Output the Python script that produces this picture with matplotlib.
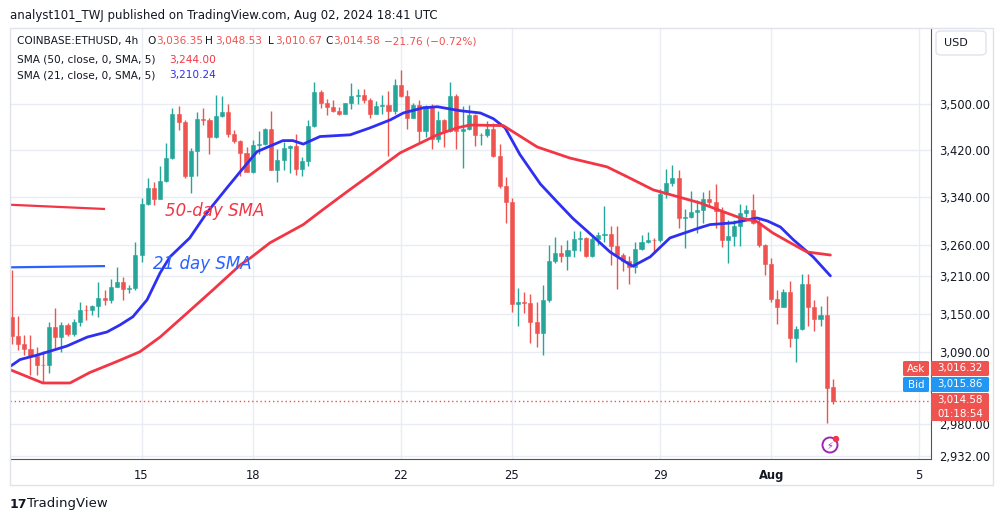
import numpy as np
import matplotlib
matplotlib.use("Agg")
import matplotlib.pyplot as plt
from matplotlib.patches import Rectangle, FancyBboxPatch, Circle
from matplotlib.ticker import FixedLocator, NullLocator

# ---- data (4h candles, Jul 11 12:00 -> Aug 2 16:00) ----
close = [3115,3102,3095,3083,3070,3069,3129,3113,3132,3118,3137,3156,3155,3162,3175,3172,3193,3201,3189,3190,
         3244,3329,3355,3336,3367,3406,3483,3468,3376,3418,3473,3472,3443,3479,3485,3447,3436,3414,3383,3428,
         3430,3456,3386,3403,3423,3427,3388,3401,3462,3521,3502,3494,3487,3483,3501,3514,3515,3507,3483,3497,
         3498,3488,3534,3513,3476,3498,3453,3497,3439,3472,3452,3514,3452,3456,3481,3445,3445,3456,3410,3358,
         3331,3165,3168,3167,3137,3120,3172,3235,3247,3243,3253,3270,3272,3242,3270,3277,3279,3258,3244,3235,
         3224,3254,3266,3269,3268,3345,3363,3372,3305,3306,3315,3319,3336,3331,3316,3268,3275,3291,3313,3319,
         3297,3261,3229,3173,3161,3185,3111,3126,3197,3161,3142,3148,3034,3014.58]
open_ = [3144,3115,3102,3095,3083,3070,3069,3129,3113,3132,3118,3137,3156,3155,3162,3175,3172,3193,3201,3189,
         3190,3244,3329,3355,3336,3367,3406,3483,3468,3376,3418,3473,3472,3443,3479,3485,3447,3436,3414,3383,
         3428,3430,3456,3386,3403,3423,3427,3388,3401,3462,3521,3502,3494,3487,3483,3501,3514,3515,3507,3483,
         3497,3498,3488,3534,3513,3476,3498,3453,3497,3439,3472,3452,3514,3452,3456,3481,3445,3445,3456,3410,
         3358,3331,3165,3168,3167,3137,3120,3172,3235,3247,3243,3253,3270,3272,3242,3270,3277,3279,3258,3244,
         3235,3224,3254,3266,3269,3268,3345,3363,3372,3305,3306,3315,3319,3336,3331,3316,3268,3275,3291,3313,
         3319,3297,3261,3229,3173,3161,3185,3111,3126,3197,3161,3142,3148,3036.35]
upper_wick = [75,31,14,21,14,21,8,30,5,3,5,12,8,2,26,13,12,23,8,6,22,9,17,11,26,26,9,14,3,6,12,19,3,37,29,15,7,1,11,9,
              23,2,32,18,11,2,21,7,10,18,4,6,13,7,1,23,11,12,3,8,18,24,10,26,12,4,8,1,2,16,1,25,4,41,17,2,5,14,11,20,
              15,8,22,16,14,32,24,26,27,13,16,14,12,1,4,4,46,12,34,3,7,11,11,12,3,8,24,22,13,14,35,16,13,16,31,7,27,10,15,7,
              26,9,1,10,14,4,17,5,17,17,10,14,30,12.18]
lower_wick = [13,9,10,29,16,25,12,17,24,4,4,7,15,7,18,8,6,1,17,7,2,12,3,9,0,1,1,14,4,30,42,9,30,2,2,5,4,39,0,2,
              15,2,1,20,17,42,11,13,8,2,10,13,2,3,1,10,14,5,7,0,14,78,6,1,20,1,19,10,17,5,27,1,31,63,2,19,17,3,2,3,
              34,13,35,16,34,22,35,4,4,11,24,13,20,1,1,9,11,31,55,17,27,9,1,3,20,3,7,4,17,50,1,35,23,6,28,11,37,16,32,6,
              2,4,18,5,28,0,14,36,2,30,19,12,52,3.91]
sma21_x = [-0.2,1.3,4.1,8.9,12.2,15.4,17.5,19.6,21.9,24.0,25.6,28.8,31.6,34.8,37.0,39.7,43.9,45.5,47.2,49.9,54.8,58.0,61.3,63.4,66.6,
           68.9,72.6,75.9,78.0,79.9,82.3,85.6,88.3,90.9,94.2,96.9,99.7,100.6,103.4,106.6,111.5,113.1,116.9,120.7,122.4,124.5,126.6,129.8,132.6]
sma21 = [3068,3078,3085,3099,3113,3121,3132,3145,3172,3215,3241,3272,3314,3355,3383,3417,3436,3436,3430,3443,3446,3458,3472,3484,3493,
         3495,3488,3484,3474,3458,3412,3362,3332,3304,3274,3249,3231,3226,3241,3272,3289,3294,3297,3305,3300,3290,3269,3241,3210.24]
sma50_x = [-0.2,5.0,9.4,12.6,17.0,20.7,24.0,28.4,32.6,37.0,38.6,41.8,47.2,50.4,54.3,58.0,62.9,66.6,68.9,72.1,74.2,79.6,85.1,90.4,96.4,
           99.7,103.9,111.5,114.3,118.0,120.7,123.3,126.1,128.8,132.6]
sma50 = [3062,3042,3042,3058,3075,3090,3113,3151,3188,3228,3239,3264,3294,3319,3349,3377,3415,3434,3446,3458,3463,3462,3425,3406,3391,
         3374,3352,3330,3319,3305,3299,3280,3264,3249,3244.0]
date_ticks = [21, 39, 63, 81, 105, 123, 147]
date_labels = ["15", "18", "22", "25", "29", "Aug", "5"]
price_ticks = [3500, 3420, 3340, 3260, 3210, 3150, 3090, 3030, 2980, 2932]
hidden_price_labels = [3030]

GREEN, RED = "#26a69a", "#ef5350"
W, H = 1003, 522
fig = plt.figure(figsize=(W/100, H/100), dpi=100)
fig.patch.set_facecolor("white")
def fx(x): return x / W
def fy(y): return 1 - y / H

ax = fig.add_axes([fx(10), fy(459), fx(931) - fx(10), fy(28) - fy(459)])
ax.set_yscale("log")
ax.set_ylim(2928, 3636)
ax.set_xlim(-0.32, 148.9)

n = len(close)
xs = np.arange(n)
o = np.array(open_); c = np.array(close)
hi = np.maximum(o, c) + np.array(upper_wick)
lo = np.minimum(o, c) - np.array(lower_wick)
cols = [GREEN if cc >= oo else RED for oo, cc in zip(o, c)]
ax.vlines(xs, lo, hi, colors=cols, lw=1, zorder=3)
for i in range(n):
    b0, b1 = min(o[i], c[i]), max(o[i], c[i])
    if b1 - b0 < 1.2:
        b1 = b0 + 1.2
    ax.add_patch(Rectangle((xs[i] - 0.33, b0), 0.66, b1 - b0, facecolor=cols[i], edgecolor=cols[i], lw=0.4, zorder=4))

ax.plot(sma21_x, sma21, color="#2f2ff2", lw=2, zorder=5, solid_capstyle="round", solid_joinstyle="round")
ax.plot(sma50_x, sma50, color="#f23645", lw=2, zorder=5, solid_capstyle="round", solid_joinstyle="round")

# annotation lines/text
ax.plot([-0.3, 14.9], [3327, 3320], color="#f23645", lw=1.6, zorder=5)
ax.plot([-0.3, 14.9], [3224, 3226], color="#2962ff", lw=1.6, zorder=5)
ax.text(24.8, 3316, "50-day SMA", color="#f23645", fontsize=12, style="italic", va="center", zorder=6)
ax.text(22.9, 3230, "21 day SMA", color="#2962ff", fontsize=12, style="italic", va="center", zorder=6)

ax.axhline(close[-1], color=RED, lw=1, ls=(0, (1, 2)), zorder=2)

ax.yaxis.set_major_locator(FixedLocator(price_ticks))
ax.yaxis.set_minor_locator(NullLocator())
ax.set_yticklabels(["" if p in hidden_price_labels else f"{p:,.2f}" for p in price_ticks])
ax.yaxis.tick_right()
ax.tick_params(axis="y", length=0, pad=6, labelsize=8.3, labelcolor="#131722")
ax.set_xticks(date_ticks)
ax.set_xticklabels(date_labels)
ax.tick_params(axis="x", length=0, pad=7, labelsize=8.3, labelcolor="#131722")
for lab in ax.get_xticklabels():
    if lab.get_text() == "Aug":
        lab.set_fontweight("bold")
ax.grid(True, color="#e9edf3", lw=1, zorder=0)
ax.set_axisbelow(True)
for s in ["top", "left"]:
    ax.spines[s].set_visible(False)
ax.spines["bottom"].set_color("#50535e")
ax.spines["right"].set_color("#50535e")

# outer frame
fig.add_artist(Rectangle((fx(10), fy(485)), fx(993) - fx(10), fy(28) - fy(485), transform=fig.transFigure,
                         fill=False, edgecolor="#e0e3eb", lw=1))

# header & legend
fig.text(fx(10), fy(15), "analyst101_TWJ published on TradingView.com, Aug 02, 2024 18:41 UTC",
         fontsize=8.5, color="#131722", va="center")
def t(x, y, s, c="#131722", fs=7.6):
    fig.text(fx(x), fy(y), s, fontsize=fs, color=c, va="center")
t(17, 41, "COINBASE:ETHUSD, 4h")
t(147, 41, "O"); t(156, 41, "3,036.35", RED)
t(205, 41, "H"); t(215, 41, "3,048.53", RED)
t(268, 41, "L"); t(275, 41, "3,010.67", RED)
t(325, 41, "C"); t(333, 41, "3,014.58", RED)
t(384, 41, "\u221221.76 (\u22120.72%)", RED)
t(17, 60, "SMA (50, close, 0, SMA, 5)"); t(169, 60, "3,244.00", "#f23645")
t(17, 75, "SMA (21, close, 0, SMA, 5)"); t(169, 75, "3,210.24", "#2f2ff2")

# USD box
fig.add_artist(FancyBboxPatch((fx(936), fy(55)), fx(986) - fx(936), fy(31) - fy(55), transform=fig.transFigure,
                              boxstyle="round,pad=0,rounding_size=0.006", facecolor="white", edgecolor="#e0e3eb", lw=1))
fig.text(fx(944), fy(43), "USD", fontsize=8, color="#131722", va="center")

# badges
def badge(x0, x1, y0, y1, color):
    fig.add_artist(FancyBboxPatch((fx(x0), fy(y1)), fx(x1) - fx(x0), fy(y0) - fy(y1), transform=fig.transFigure,
                                  boxstyle="round,pad=0,rounding_size=0.002", facecolor=color, edgecolor="none", zorder=5))
bf = 7.4
badge(903, 929, 361, 376, RED); fig.text(fx(916), fy(368.5), "Ask", color="white", fontsize=bf, ha="center", va="center", zorder=6)
badge(931, 989, 361, 376, RED); fig.text(fx(960), fy(368.5), "3,016.32", color="white", fontsize=bf, ha="center", va="center", zorder=6)
badge(903, 929, 377, 392, "#2196f3"); fig.text(fx(916), fy(384.5), "Bid", color="white", fontsize=bf, ha="center", va="center", zorder=6)
badge(931, 989, 377, 392, "#2196f3"); fig.text(fx(960), fy(384.5), "3,015.86", color="white", fontsize=bf, ha="center", va="center", zorder=6)
badge(931, 989, 393, 421, RED)
fig.text(fx(960), fy(400.5), "3,014.58", color="white", fontsize=bf, ha="center", va="center", zorder=6)
fig.text(fx(960), fy(414), "01:18:54", color="white", fontsize=bf, ha="center", va="center", zorder=6)

# lightning icon
ax2 = fig.add_axes([fx(820), fy(455), fx(840) - fx(820), fy(435) - fy(455)])
ax2.set_xlim(-1, 1); ax2.set_ylim(-1, 1); ax2.axis("off")
ax2.add_patch(Circle((0, 0), 0.75, fill=False, edgecolor="#9c27b0", lw=1.4))
ax2.add_patch(Circle((0.6, 0.6), 0.25, color="#f23645"))
ax2.text(0, -0.05, "\u26a1", color="#9c27b0", fontsize=7, ha="center", va="center")

# logo
fig.text(fx(10), fy(504), "17", fontsize=9, fontweight="bold", color="#131722", va="center")
fig.text(fx(27), fy(504), "TradingView", fontsize=9.5, color="#131722", va="center")

fig.savefig("out.png", dpi=100)
